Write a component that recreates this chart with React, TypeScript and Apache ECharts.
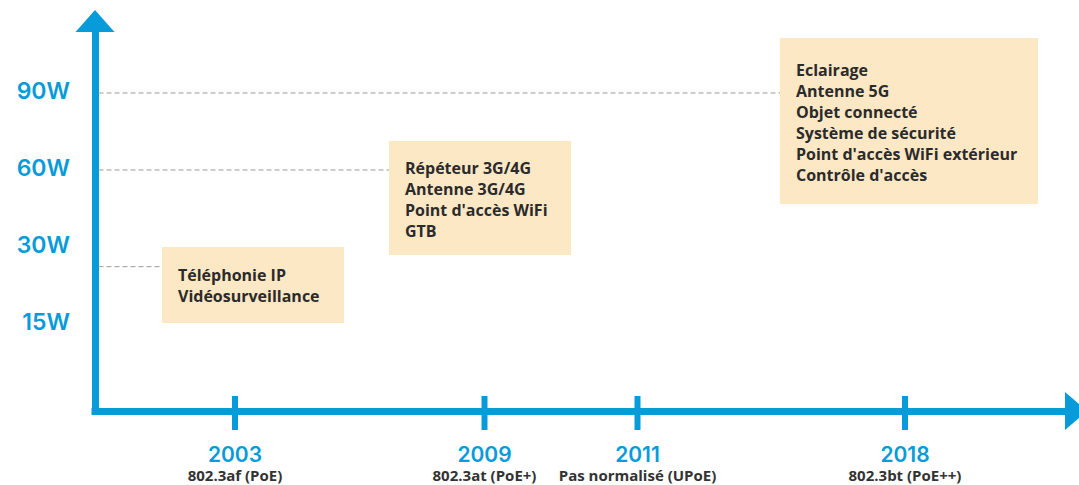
import React, { useEffect, useRef } from "react";
import * as echarts from "echarts";

const BLUE = "#089bd9";
const NUM_FONT = "Inter, 'Open Sans', sans-serif";
const TXT_FONT = "'Open Sans', 'Noto Sans', sans-serif";

// Timeline milestones (position along the schematic time axis, 0–981)
const milestoneYears = ["2003", "2009", "2011", "2018"];
const milestoneStandards = ["802.3af (PoE)", "802.3at (PoE+)", "Pas normalisé (UPoE)", "802.3bt (PoE++)"];
const milestonePositions = [140, 389.5, 542.5, 810];

// Power levels (schematic level units on the vertical axis)
const powerLabels = ["15W", "30W", "60W", "90W"];
const powerLevels = [1.15, 2.15, 3.15, 4.15];

// Use-case boxes
const boxItems = [
  ["Téléphonie IP", "Vidéosurveillance"],
  ["Répéteur 3G/4G", "Antenne 3G/4G", "Point d'accès WiFi", "GTB"],
  ["Eclairage", "Antenne 5G", "Objet connecté", "Système de sécurité", "Point d'accès WiFi extérieur", "Contrôle d'accès"],
];
const boxStart = [67, 294, 685];
const boxEnd = [249, 476, 943];
const boxBottom = [1.143, 2.026, 2.688];
const boxTop = [2.13, 3.506, 4.844];
const boxLink = [1.874, 3.13, 4.13];

const X_MAX = 981;
const Y_MAX = 390 / 77;

export default function App() {
  const ref = useRef<HTMLDivElement>(null);
  useEffect(() => {
    if (!ref.current) return;
    const chart = echarts.init(ref.current, undefined, { renderer: "svg" });
    const findIdx = (arr: number[], v: number) => arr.findIndex((a) => Math.abs(a - v) < 0.01);
    chart.setOption({
      animation: false,
      backgroundColor: "#ffffff",
      grid: { left: 95, right: 3, top: 21, bottom: 74 },
      xAxis: {
        type: "value",
        min: 0,
        max: X_MAX,
        splitLine: { show: false },
        axisTick: { show: false },
        axisLine: {
          show: true,
          symbol: ["none", "triangle"],
          symbolSize: [38, 22],
          lineStyle: { color: BLUE, width: 7, cap: "square" },
        },
        axisLabel: {
          customValues: milestonePositions,
          margin: 31,
          formatter: (v: number) => {
            const i = findIdx(milestonePositions, v);
            if (i < 0) return "";
            return `{y|${milestoneYears[i]}}\n{s|${milestoneStandards[i]}}`;
          },
          rich: {
            y: { fontSize: 21, fontWeight: 600, color: BLUE, lineHeight: 24, fontFamily: NUM_FONT, align: "center" },
            s: { fontSize: 15, fontWeight: 700, color: "#333333", lineHeight: 17, fontFamily: TXT_FONT, align: "center" },
          },
        },
      },
      yAxis: {
        type: "value",
        min: 0,
        max: Y_MAX,
        splitLine: { show: false },
        axisTick: { show: false },
        axisLine: {
          show: true,
          symbol: ["none", "triangle"],
          symbolSize: [39, 22],
          lineStyle: { color: BLUE, width: 7, cap: "square" },
        },
        axisLabel: {
          customValues: powerLevels,
          margin: 25,
          color: BLUE,
          fontSize: 23,
          fontWeight: 600,
          fontFamily: NUM_FONT,
          formatter: (v: number) => {
            const i = findIdx(powerLevels, v);
            return i < 0 ? "" : powerLabels[i];
          },
        },
      },
      series: [
        {
          type: "custom",
          coordinateSystem: "cartesian2d",
          z: 1,
          data: boxStart.map((s, i) => [s, boxEnd[i], boxBottom[i], boxTop[i], boxLink[i]]),
          renderItem: (params: any, api: any) => {
            const i = params.dataIndex;
            const x0 = api.value(0), x1 = api.value(1), yb = api.value(2), yt = api.value(3), yl = api.value(4);
            const tl = api.coord([x0, yt]);
            const br = api.coord([x1, yb]);
            const linkStart = api.coord([0, yl]);
            const cy = (tl[1] + br[1]) / 2 + 1;
            return {
              type: "group",
              children: [
                {
                  type: "line",
                  shape: { x1: linkStart[0] + 3.5, y1: linkStart[1], x2: tl[0], y2: linkStart[1] },
                  style: { stroke: "#9a9a9a", lineWidth: 1, lineDash: [5, 3] },
                },
                {
                  type: "rect",
                  shape: { x: tl[0], y: tl[1], width: br[0] - tl[0], height: br[1] - tl[1] },
                  style: { fill: "#fde8c5" },
                },
                {
                  type: "text",
                  x: tl[0] + 16,
                  y: cy,
                  style: {
                    text: boxItems[i].join("\n"),
                    fill: "#2b2b2b",
                    fontSize: 16,
                    fontWeight: 700,
                    fontFamily: TXT_FONT,
                    lineHeight: 21,
                    align: "left",
                    verticalAlign: "middle",
                  },
                },
              ],
            };
          },
        },
        {
          type: "custom",
          coordinateSystem: "cartesian2d",
          z: 5,
          data: milestonePositions.map((p) => [p, 0]),
          renderItem: (params: any, api: any) => {
            const pt = api.coord([api.value(0), api.value(1)]);
            return {
              type: "line",
              shape: { x1: pt[0], y1: pt[1] - 15, x2: pt[0], y2: pt[1] + 19 },
              style: { stroke: BLUE, lineWidth: 6 },
            };
          },
        },
      ],
    });
    return () => chart.dispose();
  }, []);
  return (
    <div
      ref={ref}
      style={{ position: "fixed", left: 0, top: 0, width: 1079, height: 485, background: "#fff" }}
    />
  );
}
